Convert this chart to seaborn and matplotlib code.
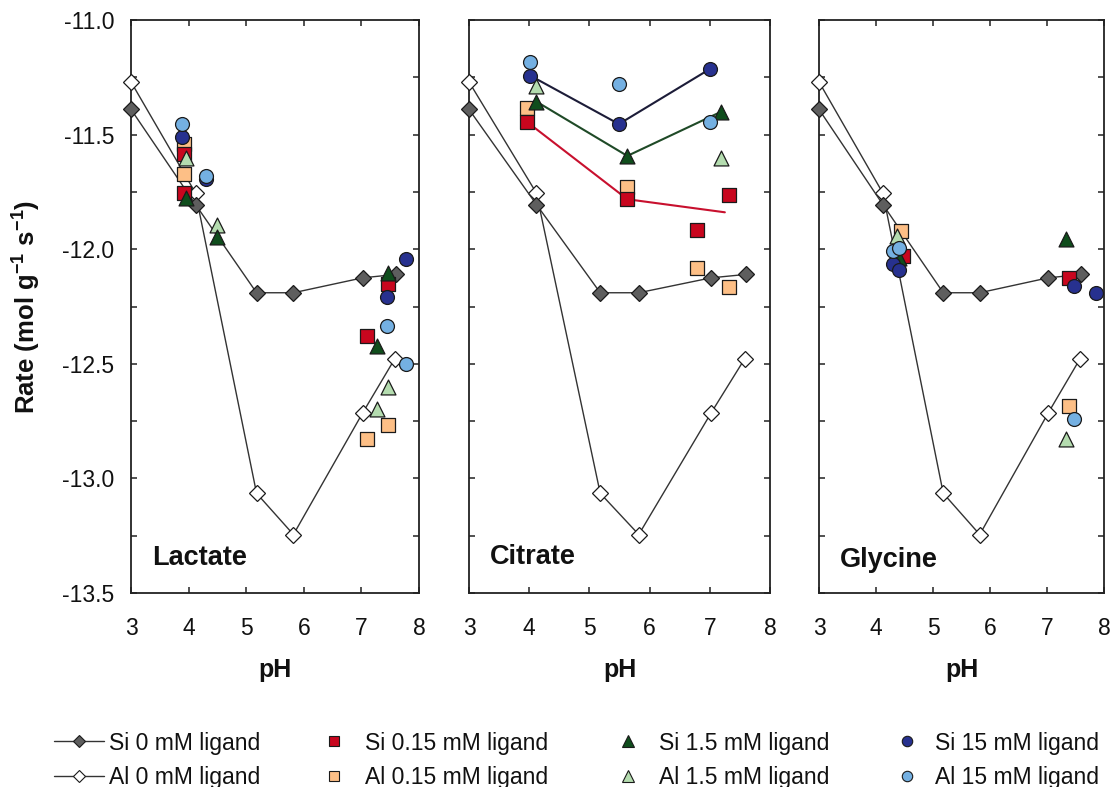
import numpy as np
import matplotlib
matplotlib.use("Agg")
import matplotlib.pyplot as plt
from matplotlib.lines import Line2D
from matplotlib.ticker import MultipleLocator, FormatStrFormatter
import seaborn as sns

# ---------------- data ----------------
panel_names = ["Lactate", "Citrate", "Glycine"]

# reference curves (no ligand), identical in all panels
si0_ph = [3.0, 4.12, 5.18, 5.82, 7.02, 7.60]
si0_rate = [-11.39, -11.805, -12.19, -12.19, -12.125, -12.11]
al0_ph = [3.0, 4.12, 5.18, 5.82, 7.02, 7.58]
al0_rate = [-11.27, -11.755, -13.065, -13.245, -12.715, -12.478]

# Lactate
lac_si015_ph = [3.92, 3.92, 7.09, 7.47]
lac_si015_rate = [-11.585, -11.756, -12.379, -12.152]
lac_al015_ph = [3.92, 3.92, 7.09, 7.47]
lac_al015_rate = [-11.54, -11.673, -12.83, -12.767]
lac_si15_ph = [3.95, 4.50, 7.27, 7.46]
lac_si15_rate = [-11.778, -11.947, -12.424, -12.102]
lac_al15_ph = [3.96, 4.50, 7.27, 7.46]
lac_al15_rate = [-11.602, -11.894, -12.699, -12.601]
lac_si150_ph = [3.89, 4.30, 7.44, 7.77]
lac_si150_rate = [-11.512, -11.695, -12.207, -12.041]
lac_al150_ph = [3.89, 4.30, 7.44, 7.77]
lac_al150_rate = [-11.454, -11.680, -12.335, -12.500]

# Citrate
cit_si015_ph = [3.97, 5.63, 6.78, 7.32]
cit_si015_rate = [-11.446, -11.782, -11.916, -11.763]
cit_al015_ph = [3.97, 5.63, 6.78, 7.32]
cit_al015_rate = [-11.385, -11.727, -12.083, -12.166]
cit_si15_ph = [4.12, 5.63, 7.19]
cit_si15_rate = [-11.356, -11.593, -11.400]
cit_al15_ph = [4.12, 7.19]
cit_al15_rate = [-11.288, -11.603]
cit_si150_ph = [4.02, 5.49, 7.00]
cit_si150_rate = [-11.243, -11.454, -11.214]
cit_al150_ph = [4.02, 5.49, 7.00]
cit_al150_rate = [-11.182, -11.281, -11.446]
# trend line for Si 0.15 mM citrate
cit_si015_line_ph = [3.97, 5.63, 7.25]
cit_si015_line_rate = [-11.446, -11.782, -11.839]

# Glycine
gly_si015_ph = [4.47, 7.39]
gly_si015_rate = [-12.03, -12.127]
gly_al015_ph = [4.43, 7.39]
gly_al015_rate = [-11.919, -12.684]
gly_si15_ph = [4.41, 7.33]
gly_si15_rate = [-12.04, -11.957]
gly_al15_ph = [4.37, 7.33]
gly_al15_rate = [-11.942, -12.83]
gly_si150_ph = [4.30, 4.41, 7.47, 7.86]
gly_si150_rate = [-12.065, -12.091, -12.161, -12.193]
gly_al150_ph = [4.30, 4.41, 7.47]
gly_al150_rate = [-12.006, -11.996, -12.742]

legend_labels = ["Si 0 mM ligand", "Al 0 mM ligand",
                 "Si 0.15 mM ligand", "Al 0.15 mM ligand",
                 "Si 1.5 mM ligand", "Al 1.5 mM ligand",
                 "Si 15 mM ligand", "Al 15 mM ligand"]

x_ticks = [3, 4, 5, 6, 7, 8]

# ---------------- styles ----------------
EDGE = "#1a1a1a"
LINE = "#333333"
C_SI0 = "#5e5e5e"
C_AL0 = "#ffffff"
C_SI015 = "#c8061e"
C_AL015 = "#fdbf86"
C_SI15 = "#0f4d1c"
C_AL15 = "#b4dcaf"
C_SI150 = "#27318f"
C_AL150 = "#74b0e2"

sns.set_theme(style="ticks")
plt.rcParams["font.family"] = ["Liberation Sans", "DejaVu Sans"]
plt.rcParams["axes.unicode_minus"] = False
plt.rcParams["mathtext.fontset"] = "custom"
plt.rcParams["mathtext.rm"] = "Liberation Sans"
plt.rcParams["mathtext.bf"] = "Liberation Sans:bold"

W, H = 1113, 787
fig = plt.figure(figsize=(W / 100, H / 100), dpi=100)


def add_ax(l, r, top=20, bottom=593):
    return fig.add_axes([l / W, 1 - bottom / H, (r - l) / W, (bottom - top) / H])


axes = [add_ax(131, 419), add_ax(469, 770), add_ax(819, 1104)]

panels = [
    dict(si015=(lac_si015_ph, lac_si015_rate), al015=(lac_al015_ph, lac_al015_rate),
         si15=(lac_si15_ph, lac_si15_rate), al15=(lac_al15_ph, lac_al15_rate),
         si150=(lac_si150_ph, lac_si150_rate), al150=(lac_al150_ph, lac_al150_rate)),
    dict(si015=(cit_si015_ph, cit_si015_rate), al015=(cit_al015_ph, cit_al015_rate),
         si15=(cit_si15_ph, cit_si15_rate), al15=(cit_al15_ph, cit_al15_rate),
         si150=(cit_si150_ph, cit_si150_rate), al150=(cit_al150_ph, cit_al150_rate)),
    dict(si015=(gly_si015_ph, gly_si015_rate), al015=(gly_al015_ph, gly_al015_rate),
         si15=(gly_si15_ph, gly_si15_rate), al15=(gly_al15_ph, gly_al15_rate),
         si150=(gly_si150_ph, gly_si150_rate), al150=(gly_al150_ph, gly_al150_rate)),
]

scatter_order = [
    ("al015", "s", C_AL015, 100),
    ("si015", "s", C_SI015, 100),
    ("al15", "^", C_AL15, 115),
    ("si15", "^", C_SI15, 115),
    ("si150", "o", C_SI150, 100),
    ("al150", "o", C_AL150, 100),
]

label_pos = [(0.075, 0.061), (0.07, 0.063), (0.074, 0.058)]

for i, (ax, pdata, name) in enumerate(zip(axes, panels, panel_names)):
    # reference curves
    sns.lineplot(x=al0_ph, y=al0_rate, ax=ax, sort=False, estimator=None,
                 color=LINE, lw=1.0, marker="D", markersize=8,
                 markerfacecolor=C_AL0, markeredgecolor=EDGE, markeredgewidth=0.9,
                 zorder=3, clip_on=False)
    sns.lineplot(x=si0_ph, y=si0_rate, ax=ax, sort=False, estimator=None,
                 color=LINE, lw=1.0, marker="D", markersize=8,
                 markerfacecolor=C_SI0, markeredgecolor=EDGE, markeredgewidth=0.9,
                 zorder=3, clip_on=False)
    if name == "Citrate":
        sns.lineplot(x=cit_si015_line_ph, y=cit_si015_line_rate, ax=ax, sort=False,
                     estimator=None, color="#c8102e", lw=1.5, zorder=2.5)
        sns.lineplot(x=cit_si15_ph, y=cit_si15_rate, ax=ax, sort=False,
                     estimator=None, color="#1f4a27", lw=1.5, zorder=2.5)
        sns.lineplot(x=cit_si150_ph, y=cit_si150_rate, ax=ax, sort=False,
                     estimator=None, color="#1c1c38", lw=1.5, zorder=2.5)
    for k, (key, mk, col, size) in enumerate(scatter_order):
        xs, ys = pdata[key]
        sns.scatterplot(x=xs, y=ys, ax=ax, marker=mk, s=size, color=col,
                        edgecolor=EDGE, linewidth=0.9, zorder=4 + k * 0.1,
                        clip_on=False)

    ax.set_xlim(3, 8)
    ax.set_ylim(-13.5, -11.0)
    ax.set_xticks(x_ticks)
    ax.yaxis.set_major_locator(MultipleLocator(0.5))
    ax.yaxis.set_minor_locator(MultipleLocator(0.25))
    ax.yaxis.set_major_formatter(FormatStrFormatter("%.1f"))
    ax.tick_params(which="both", direction="in", top=True, right=True,
                   length=4.5, width=1.1, color="#222222")
    ax.tick_params(axis="x", which="major", labelsize=16.5, pad=17, labelcolor="#111111")
    ax.tick_params(axis="y", which="major", labelsize=16.5, pad=12, labelcolor="#111111")
    if i > 0:
        ax.tick_params(axis="y", labelleft=False)
    for sp in ax.spines.values():
        sp.set_linewidth(1.3)
        sp.set_color("#222222")
    ax.grid(False)
    ax.set_xlabel("pH", fontsize=18, fontweight="bold", color="#111111")
    ax.xaxis.set_label_coords(0.5, -0.113)
    ax.set_ylabel("")
    lx, ly = label_pos[i]
    ax.text(lx, ly, name, transform=ax.transAxes, fontsize=19.5,
            fontweight="bold", ha="left", va="center", color="#111111")

axes[0].set_ylabel(r"Rate (mol g$^{\mathbf{-1}}$ s$^{\mathbf{-1}}$)",
                   fontsize=18.5, fontweight="bold", color="#111111")
axes[0].yaxis.set_label_coords(-0.31, 0.5)

# ---------------- legend ----------------
def mk_handle(marker, face, ms, line=False):
    return Line2D([], [], color=LINE if line else "none", lw=1.0 if line else 0,
                  marker=marker, markersize=ms, markerfacecolor=face,
                  markeredgecolor=EDGE, markeredgewidth=0.8)

cols = [
    ([mk_handle("D", C_SI0, 6.5, True), mk_handle("D", C_AL0, 6.5, True)],
     legend_labels[0:2], 54, 2.2, 0.22),
    ([mk_handle("s", C_SI015, 7.5), mk_handle("s", C_AL015, 7.5)],
     legend_labels[2:4], 323, 1.0, 0.85),
    ([mk_handle("^", C_SI15, 8), mk_handle("^", C_AL15, 8)],
     legend_labels[4:6], 617, 1.0, 0.85),
    ([mk_handle("o", C_SI150, 7.5), mk_handle("o", C_AL150, 7.5)],
     legend_labels[6:8], 896, 1.0, 0.7),
]
for handles, labels, x0, hl, htp in cols:
    fig.legend(handles, labels, loc="center left", bbox_to_anchor=(x0 / W, 0.034),
               frameon=False, fontsize=16.5, handlelength=hl, handletextpad=htp,
               borderpad=0, borderaxespad=0, labelspacing=0.5, labelcolor="#111111")

fig.savefig("out.png", dpi=100)
